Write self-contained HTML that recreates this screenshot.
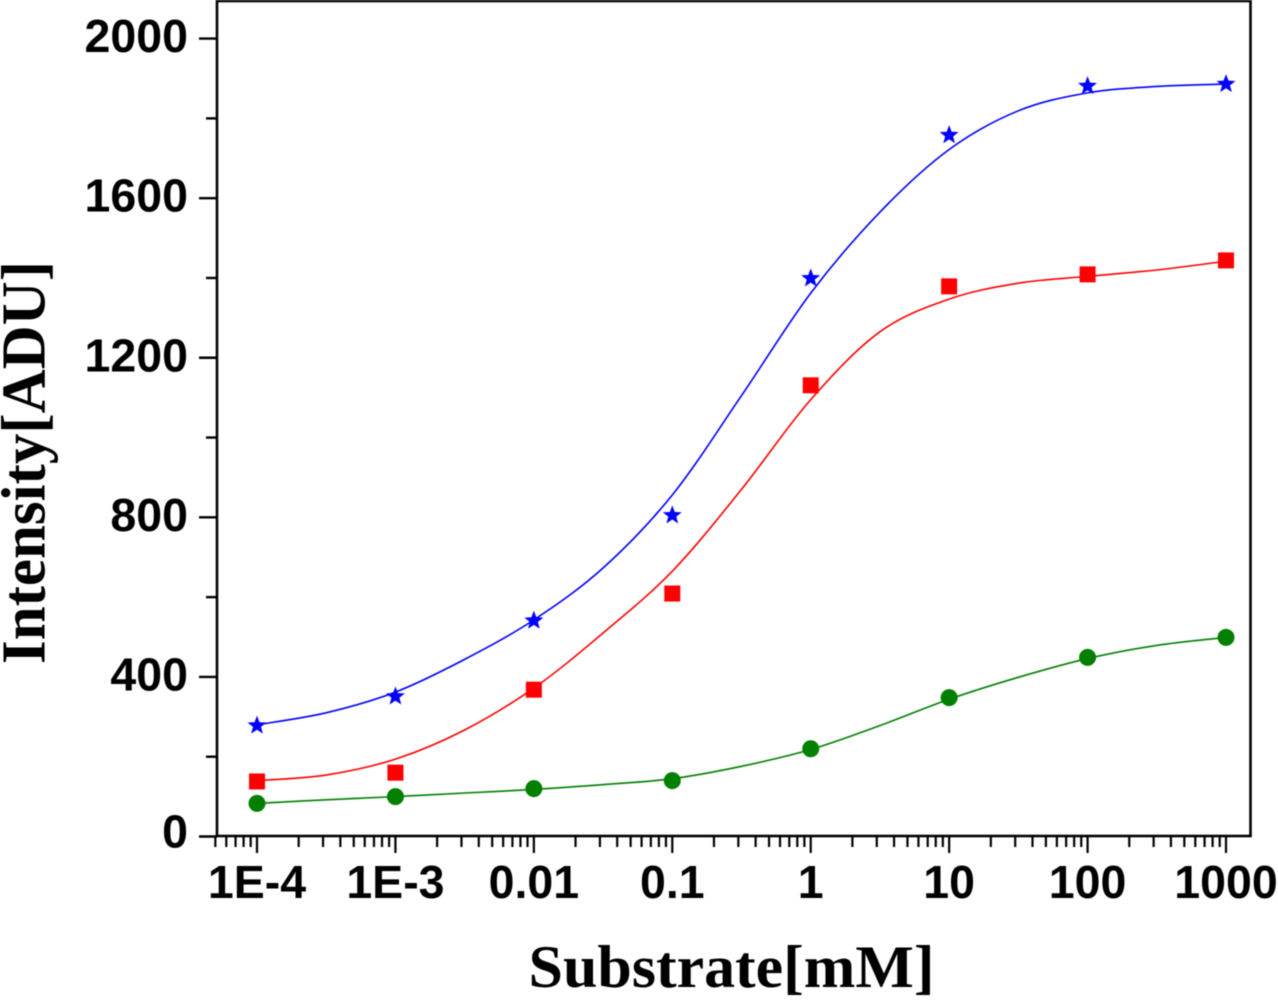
<!DOCTYPE html>
<html lang="en">
<head>
<meta charset="utf-8">
<title>Intensity vs Substrate</title>
<style>
html,body{margin:0;padding:0;background:#fff;width:1278px;height:1000px;overflow:hidden}
svg{display:block;filter:blur(0.55px)}
.tick-label{font-family:"Liberation Sans",sans-serif;font-weight:700;font-size:46.5px;fill:#000}
.axis-title{font-family:"Liberation Serif",serif;font-weight:700;font-size:60px;fill:#000}
</style>
</head>
<body>
<svg id="chart" xmlns="http://www.w3.org/2000/svg" width="1278" height="1000" viewBox="0 0 1278 1000">
  <rect x="217" y="1" width="1033.5" height="835" fill="none" stroke="#000" stroke-width="2.6"></rect>
  <g id="ticks"></g>
  <g id="labels"></g>
  <g id="curves"></g>
  <g id="points"></g>
  <text class="axis-title" x="528.5" y="987" textLength="406" lengthAdjust="spacingAndGlyphs">Substrate[mM]</text>
  <text class="axis-title" style="font-size:62px" transform="translate(44.5,664) rotate(-90)" textLength="403" lengthAdjust="spacingAndGlyphs">Intensity[ADU]</text>
</svg>
<script>
const xCategories = [0.0001, 0.001, 0.01, 0.1, 1, 10, 100, 1000];
const xTickLabels = ['1E-4', '1E-3', '0.01', '0.1', '1', '10', '100', '1000'];
const yMajorTicks = [0, 400, 800, 1200, 1600, 2000];
const yMinorTicks = [200, 600, 1000, 1400, 1800];

const bluePoints = [278, 351, 541, 805, 1399, 1758, 1881, 1886];
const redPoints = [138, 160, 368, 609, 1131, 1379, 1409, 1444];
const greenPoints = [83, 100, 120, 140, 220, 348, 449, 499];

const curveX = [0.0001, 0.000316, 0.001, 0.00316, 0.01, 0.0316, 0.1, 0.316, 1, 3.16, 10, 31.6, 100, 316, 1000];
const blueCurve = [280, 310, 362, 444, 543, 673, 856, 1105, 1362, 1565, 1722, 1819, 1864, 1880, 1886];
const redCurve = [140, 154, 194, 267, 372, 510, 665, 870, 1095, 1265, 1347, 1387, 1404, 1420, 1442];
const greenCurve = [83, 92, 100, 109, 118, 130, 145, 176, 218, 278, 344, 399, 446, 479, 499];

const SVGNS = 'http://www.w3.org/2000/svg';
const xAxis = v => 257 + (Math.log10(v) + 4) * 138.43;
const yAxis = v => 836.5 - v * 0.39895;

function make(tag, attrs, parent) {
  const el = document.createElementNS(SVGNS, tag);
  for (const k in attrs) el.setAttribute(k, attrs[k]);
  parent.appendChild(el);
  return el;
}

const ticksG = document.getElementById('ticks');
const labelsG = document.getElementById('labels');
const curvesG = document.getElementById('curves');
const pointsG = document.getElementById('points');

function tickLine(x1, y1, x2, y2, w, name) {
  const el = make('line', {x1: x1, y1: y1, x2: x2, y2: y2, stroke: '#000', 'stroke-width': w}, ticksG);
  
  
}

yMajorTicks.forEach(v => tickLine(199, yAxis(v), 217, yAxis(v), 2.4, 'y-major-tick'));
yMinorTicks.forEach(v => tickLine(206, yAxis(v), 217, yAxis(v), 2.4, 'y-minor-tick'));

xCategories.forEach((c, i) => {
  tickLine(xAxis(c), 836, xAxis(c), 853, 2.2, 'x-major-tick');
  if (i < xCategories.length - 1) {
    for (let m = 2; m < 10; m++) tickLine(xAxis(c * m), 836, xAxis(c * m), 847, 2.2, 'x-minor-tick');
  }
  if (i === 0) {
    for (let m = 5; m < 10; m++) tickLine(xAxis(c * m / 10), 836, xAxis(c * m / 10), 847, 2.2, 'x-minor-tick');
  }
  const t = make('text', {class: 'tick-label', x: xAxis(c), y: 898, 'text-anchor': 'middle'}, labelsG);
  t.textContent = xTickLabels[i];
  
  
});

yMajorTicks.forEach(v => {
  const t = make('text', {class: 'tick-label', x: 188, y: yAxis(v) + (v === 0 ? 11 : 13.5), 'text-anchor': 'end'}, labelsG);
  t.textContent = String(v);
  
  
});

function splinePath(xs, ys) {
  const p = xs.map((x, i) => [xAxis(x), yAxis(ys[i])]);
  let d = 'M' + p[0][0].toFixed(2) + ' ' + p[0][1].toFixed(2);
  for (let i = 0; i < p.length - 1; i++) {
    const a = p[Math.max(i - 1, 0)], b = p[i], c = p[i + 1], e = p[Math.min(i + 2, p.length - 1)];
    const c1x = b[0] + (c[0] - a[0]) / 6, c1y = b[1] + (c[1] - a[1]) / 6;
    const c2x = c[0] - (e[0] - b[0]) / 6, c2y = c[1] - (e[1] - b[1]) / 6;
    d += 'C' + [c1x, c1y, c2x, c2y, c[0], c[1]].map(n => n.toFixed(2)).join(' ');
  }
  return d;
}

function addCurve(values, color, name) {
  const el = make('path', {d: splinePath(curveX, values), fill: 'none', stroke: color, 'stroke-width': 1.6}, curvesG);
  
  
}
addCurve(blueCurve, '#0000ff', 'blue-fit-curve');
addCurve(redCurve, '#ff0000', 'red-fit-curve');
addCurve(greenCurve, '#007f00', 'green-fit-curve');

function starPoints(cx, cy, R, r) {
  const out = [];
  for (let i = 0; i < 10; i++) {
    const rad = i % 2 ? r : R;
    const ang = -Math.PI / 2 + i * Math.PI / 5;
    out.push((cx + rad * Math.cos(ang)).toFixed(2) + ',' + (cy + rad * Math.sin(ang)).toFixed(2));
  }
  return out.join(' ');
}

bluePoints.forEach((v, i) => {
  const el = make('polygon', {points: starPoints(xAxis(xCategories[i]), yAxis(v), 10, 4.2), fill: '#0000ff'}, pointsG);
  
  
});
redPoints.forEach((v, i) => {
  const el = make('rect', {x: xAxis(xCategories[i]) - 8, y: yAxis(v) - 8, width: 16, height: 16, fill: '#ff0000'}, pointsG);
  
  
});
greenPoints.forEach((v, i) => {
  const el = make('circle', {cx: xAxis(xCategories[i]), cy: yAxis(v), r: 8.5, fill: '#007f00'}, pointsG);
  
  
});
</script>
</body>
</html>
